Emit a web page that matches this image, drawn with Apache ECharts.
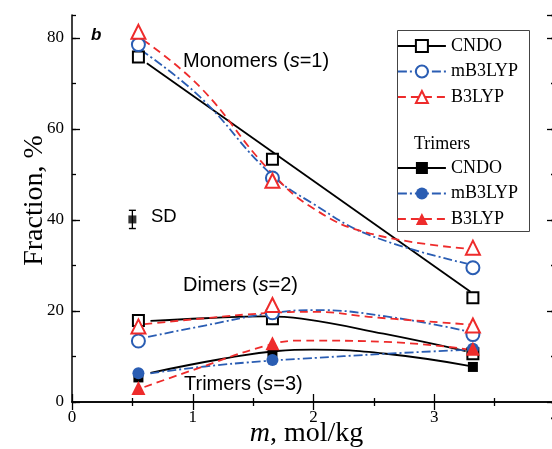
<!DOCTYPE html>
<html>
<head>
<meta charset="utf-8">
<script src="https://cdn.jsdelivr.net/npm/echarts@6/dist/echarts.min.js"></script>
<style>
html,body{margin:0;padding:0;background:#fff;}
#chart{width:552px;height:449px;}
</style>
</head>
<body>
<div id="chart"></div>
<script>
// ---- data ----
const xConc = [0.55, 1.66, 3.32];           // m, mol/kg
const monoCNDO = [75.8, 53.3, 22.9];
const monoMB3 = [78.5, 49.2, 29.5];
const monoB3 = [81.3, 48.6, 33.9];
const diCNDO = [17.9, 18.3, 10.6];
const diMB3 = [13.4, 19.6, 14.8];
const diB3 = [16.6, 21.3, 16.8];
const triCNDO = [5.4, 11.0, 7.7];
const triMB3 = [6.3, 9.2, 11.7];
const triB3 = [3.1, 12.9, 11.7];

// fitted curves (x, fraction)
const fitMonoCNDO = [[0.62, 74.4], [3.30, 24.2]];
const fitMonoMB3 = [[0.57, 77.3], [1.06, 67.0], [1.64, 50.2], [2.0, 43.5], [2.47, 36.6], [3.27, 30.4]];
const fitMonoB3 = [[0.59, 79.5], [1.06, 69.2], [1.62, 51.3], [2.0, 42.5], [2.47, 37.0], [3.27, 33.7]];
const fitDiCNDO = [[0.65, 17.8], [1.1, 18.4], [1.6, 18.8], [1.9, 18.3], [2.58, 15.0], [3.26, 11.2]];
const fitDiMB3 = [[0.63, 14.3], [1.1, 16.8], [1.6, 19.3], [2.0, 20.2], [2.6, 18.8], [3.3, 15.4]];
const fitDiB3 = [[0.6, 17.1], [1.1, 18.4], [1.6, 19.5], [2.0, 19.8], [2.5, 18.6], [3.3, 17.0]];
const fitTriCNDO = [[0.65, 6.4], [1.25, 9.5], [1.7, 11.2], [2.0, 11.5], [2.6, 10.6], [3.3, 7.9]];
const fitTriMB3 = [[0.65, 6.3], [1.1, 7.8], [1.6, 9.0], [1.9, 9.5], [2.6, 10.6], [3.3, 11.5]];
const fitTriB3 = [[0.6, 3.3], [1.0, 7.0], [1.6, 12.3], [1.9, 13.5], [2.6, 13.2], [3.3, 11.5]];

const sdX = [0.5];
const sdY = [40.1];
const sdErr = [2.0];

const methodNames = ['CNDO', 'mB3LYP', 'B3LYP'];
const xTicks = [0, 1, 2, 3, 4];
const yTicks = [0, 20, 40, 60, 80];

// ---- styles ----
const BLACK = '#000000', BLUE = '#2a5db3', RED = '#ee2b2b';
const SERIF = 'Liberation Serif', SANS = 'Liberation Sans';
const styles = {
  CNDO: { color: BLACK, type: 'solid' },
  mB3LYP: { color: BLUE, type: [9, 3, 2, 3] },
  B3LYP: { color: RED, type: [8, 5] }
};
const hollowSym = { CNDO: ['emptyRect', 11], mB3LYP: ['emptyCircle', 13], B3LYP: ['emptyTriangle', 14] };
const filledSym = { CNDO: ['rect', 10], mB3LYP: ['circle', 12], B3LYP: ['triangle', 14] };

const pair = ys => xConc.map((x, i) => [x, ys[i]]);

function fitSeries(name, data, m) {
  return {
    name: name, type: 'line', data: data, smooth: 0.45, symbol: 'none', silent: true, z: 2,
    lineStyle: { color: styles[m].color, width: 1.8, type: styles[m].type }
  };
}
function markSeries(name, ys, m, sym) {
  return {
    name: name, type: 'line', data: pair(ys), symbol: sym[0], symbolSize: sym[1], z: 3,
    showSymbol: true, silent: true,
    lineStyle: { width: 0, opacity: 0, color: styles[m].color },
    itemStyle: { color: styles[m].color, borderWidth: 1.3 }
  };
}

const series = [
  fitSeries('fit mono CNDO', fitMonoCNDO, 'CNDO'),
  fitSeries('fit mono mB3LYP', fitMonoMB3, 'mB3LYP'),
  fitSeries('fit mono B3LYP', fitMonoB3, 'B3LYP'),
  fitSeries('fit di CNDO', fitDiCNDO, 'CNDO'),
  fitSeries('fit di mB3LYP', fitDiMB3, 'mB3LYP'),
  fitSeries('fit di B3LYP', fitDiB3, 'B3LYP'),
  fitSeries('fit tri CNDO', fitTriCNDO, 'CNDO'),
  fitSeries('fit tri mB3LYP', fitTriMB3, 'mB3LYP'),
  fitSeries('fit tri B3LYP', fitTriB3, 'B3LYP'),
  markSeries('Monomers CNDO', monoCNDO, 'CNDO', hollowSym.CNDO),
  markSeries('Monomers mB3LYP', monoMB3, 'mB3LYP', hollowSym.mB3LYP),
  markSeries('Monomers B3LYP', monoB3, 'B3LYP', hollowSym.B3LYP),
  markSeries('Dimers CNDO', diCNDO, 'CNDO', hollowSym.CNDO),
  markSeries('Dimers mB3LYP', diMB3, 'mB3LYP', hollowSym.mB3LYP),
  markSeries('Dimers B3LYP', diB3, 'B3LYP', hollowSym.B3LYP),
  markSeries('Trimers CNDO', triCNDO, 'CNDO', filledSym.CNDO),
  markSeries('Trimers mB3LYP', triMB3, 'mB3LYP', filledSym.mB3LYP),
  markSeries('Trimers B3LYP', triB3, 'B3LYP', filledSym.B3LYP),
  {
    name: 'SD bar', type: 'line', silent: true, z: 3,
    data: [[sdX[0], sdY[0] - sdErr[0]], [sdX[0], sdY[0] + sdErr[0]]],
    symbol: 'rect', symbolSize: [7, 1.4], showSymbol: true,
    lineStyle: { color: BLACK, width: 1.3 }, itemStyle: { color: BLACK }
  },
  {
    name: 'SD', type: 'scatter', silent: true, z: 4,
    data: sdX.map((x, i) => [x, sdY[i]]), symbol: 'rect', symbolSize: 8,
    itemStyle: { color: BLACK }
  }
];

function legendItems(prefix) {
  return methodNames.map(m => ({
    name: prefix + ' ' + m,
    lineStyle: { color: styles[m].color, width: 1.8, type: styles[m].type, opacity: 1 }
  }));
}
const legendCommon = {
  orient: 'vertical', left: 397, itemWidth: 48, itemHeight: 15, itemGap: 7.5, padding: 0,
  selectedMode: false,
  formatter: n => n.split(' ')[1],
  textStyle: { fontFamily: SERIF, fontSize: 18, color: '#000', lineHeight: 15 }
};

const axisLineStyle = { lineStyle: { color: BLACK, width: 1.5 } };
const tickStyle = { color: BLACK, width: 1.3 };
const labelStyle = { fontFamily: SERIF, fontSize: 17, color: '#000' };

const option = {
  animation: false,
  backgroundColor: '#fff',
  grid: { left: 72, right: -3, top: 15, bottom: 47, containLabel: false, outerBoundsMode: 'none' },
  xAxis: [
    {
      type: 'value', position: 'bottom', min: xTicks[0], max: xTicks[xTicks.length - 1], interval: 1,
      axisLine: axisLineStyle,
      axisTick: { inside: true, length: 8, lineStyle: tickStyle },
      minorTick: { show: true, splitNumber: 2, length: 4, lineStyle: tickStyle },
      axisLabel: Object.assign({ margin: 7 }, labelStyle),
      splitLine: { show: false },
      name: '{i|m}{r|, mol/kg}', nameLocation: 'middle', nameGap: 18, nameMoveOverlap: false,
      nameTextStyle: {
        fontFamily: SERIF, fontSize: 28, color: '#000', padding: [0, 14, 0, 0],
        rich: {
          i: { fontFamily: SERIF, fontSize: 28, fontStyle: 'italic', color: '#000' },
          r: { fontFamily: SERIF, fontSize: 28, color: '#000' }
        }
      }
    },
    {
      type: 'value', position: 'top', min: xTicks[0], max: xTicks[xTicks.length - 1], interval: 1,
      axisLine: axisLineStyle,
      axisTick: { inside: true, length: 8, lineStyle: tickStyle },
      minorTick: { show: true, splitNumber: 2, length: 4, lineStyle: tickStyle },
      axisLabel: { show: false }, splitLine: { show: false }
    }
  ],
  yAxis: [
    {
      type: 'value', position: 'left', min: 0, max: 85, interval: 20,
      axisLine: axisLineStyle,
      axisTick: { inside: true, length: 8, lineStyle: tickStyle },
      axisLabel: Object.assign({ margin: 8, showMaxLabel: false,
        formatter: v => (yTicks.indexOf(v) >= 0 ? String(v) : '') }, labelStyle),
      splitLine: { show: false },
      name: 'Fraction, %', nameLocation: 'middle', nameGap: 23, nameRotate: 90, nameMoveOverlap: false,
      nameTextStyle: { fontFamily: SERIF, fontSize: 28, color: '#000', padding: [0, 0, 0, 16] }
    },
    {
      type: 'value', position: 'left', min: 0, max: 85, interval: 10,
      axisLine: { show: false },
      axisTick: { inside: true, length: 4, lineStyle: tickStyle },
      axisLabel: { show: false }, splitLine: { show: false }
    },
    {
      type: 'value', position: 'right', min: 0, max: 85, interval: 20,
      axisLine: axisLineStyle,
      axisTick: { inside: true, length: 8, lineStyle: tickStyle },
      axisLabel: { show: false }, splitLine: { show: false }
    },
    {
      type: 'value', position: 'right', min: 0, max: 85, interval: 10,
      axisLine: { show: false },
      axisTick: { inside: true, length: 4, lineStyle: tickStyle },
      axisLabel: { show: false }, splitLine: { show: false }
    }
  ],
  legend: [
    Object.assign({ top: 37, data: legendItems('Monomers') }, legendCommon),
    Object.assign({ top: 159, data: legendItems('Trimers') }, legendCommon)
  ],
  series: series,
  graphic: [
    { type: 'rect', z: 0, shape: { x: 397.5, y: 30.5, width: 132, height: 201 },
      style: { fill: 'none', stroke: '#444', lineWidth: 1 } },
    { type: 'text', x: 414, y: 144,
      style: { text: 'Trimers', fontFamily: SERIF, fontSize: 18, fill: '#000', verticalAlign: 'middle' } },
    { type: 'text', x: 91, y: 35,
      style: { text: 'b', fontFamily: SANS, fontSize: 17, fontWeight: 'bold', fontStyle: 'italic', fill: '#000', verticalAlign: 'middle' } },
    { type: 'text', x: 151, y: 217,
      style: { text: 'SD', fontFamily: SANS, fontSize: 18.5, fill: '#000', verticalAlign: 'middle' } },
    { type: 'text', x: 183, y: 61,
      style: { text: '{a|Monomers (}{i|s}{a|=1)}', verticalAlign: 'middle',
        rich: { a: { fontFamily: SANS, fontSize: 20, fill: '#000' }, i: { fontFamily: SANS, fontSize: 20, fontStyle: 'italic', fill: '#000' } } } },
    { type: 'text', x: 183, y: 285,
      style: { text: '{a|Dimers (}{i|s}{a|=2)}', verticalAlign: 'middle',
        rich: { a: { fontFamily: SANS, fontSize: 20, fill: '#000' }, i: { fontFamily: SANS, fontSize: 20, fontStyle: 'italic', fill: '#000' } } } },
    { type: 'text', x: 184, y: 384,
      style: { text: '{a|Trimers (}{i|s}{a|=3)}', verticalAlign: 'middle',
        rich: { a: { fontFamily: SANS, fontSize: 20, fill: '#000' }, i: { fontFamily: SANS, fontSize: 20, fontStyle: 'italic', fill: '#000' } } } }
  ]
};

const chart = echarts.init(document.getElementById('chart'), null, { renderer: 'canvas' });
chart.setOption(option);
</script>
</body>
</html>
